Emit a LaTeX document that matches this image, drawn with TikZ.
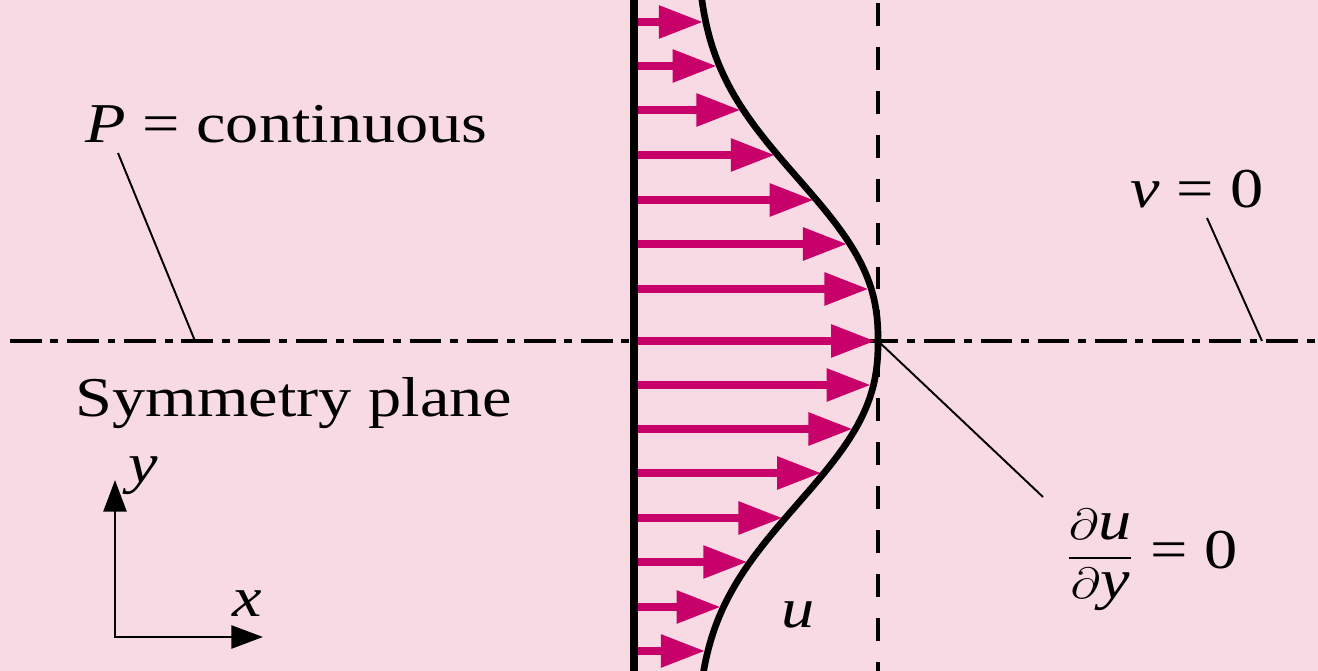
\documentclass[tikz,border=0pt]{standalone}
\usepackage{fontspec}
\setmainfont{Liberation Serif}
\usepackage{amsmath}
\usepackage{graphicx}
\usetikzlibrary{arrows.meta, positioning}
\definecolor{bgpink}{RGB}{248,218,228}
\definecolor{velmag}{RGB}{200,0,105}
\newcommand{\wide}[1]{\scalebox{1.18}[1]{#1}}

\begin{document}
\begin{tikzpicture}[x=0.02cm, y=-0.02cm,
  lbl/.style={font=\fontsize{32}{38}\selectfont, inner sep=0pt},
  leader/.style={line width=1.1pt},
  vel/.style={velmag, line width=4pt, -{Triangle[length=25pt, width=18pt]}},
  axis/.style={line width=1.7pt, line join=miter},
  declare function={prof(\t)=696+182*exp(-((abs(\t-341)+0.01)/204)^2.4);}
]
  \fill[bgpink] (0,0) rectangle (1318,671);
  \useasboundingbox (0,0) rectangle (1318,671);

  % centre line and wall edge of the symmetric region
  \draw[line width=1.9pt, dash pattern=on 18pt off 5pt on 4.5pt off 5pt] (10,341) -- (1318,341);
  \draw[line width=2pt, dash pattern=on 13pt off 12pt] (878,3) -- (878,671);

  \begin{scope}
    \clip (0,0) rectangle (1318,671);
    % velocity arrows
    \foreach \yy in {22,66,110,155,200,244,289,341,385,429,473,518,562,607,651}
      \draw[vel] (634,\yy) -- ({prof(\yy)-3},\yy);
    % profile u(y)
    \draw[line width=3.8pt] plot[domain=-10:681, samples=90, smooth] ({prof(\x)},\x);
    % wall
    \draw[line width=4pt] (634,-5) -- (634,676);
  \end{scope}

  % labels
  \node[lbl, anchor=base west] (pcont) at (85,143) {\wide{\textit{P} = continuous}};
  \node[lbl, anchor=base west] (symm) at (75,417) {\wide{Symmetry plane}};
  \node[lbl, anchor=base west] (vzero) at (1130,208) {\wide{\textit{v} = 0}};
  \node[lbl, anchor=base] (ulbl) at (798,627) {\wide{\textit{u}}};
  \node[lbl, anchor=base west] (dudy) at (1066,569) {\wide{$\dfrac{\partial\textit{u}}{\partial\textit{y}}$ = 0}};

  % leader lines
  \coordinate (ptop) at (118,153);
  \coordinate (pfoot) at (195,341);
  \coordinate (vtop) at (1207,218);
  \coordinate (vfoot) at (1262,341);
  \coordinate (peak) at (878,341);
  \coordinate (dend) at (1043,497);
  \draw[leader] (ptop) -- (pfoot);
  \draw[leader] (vtop) -- (vfoot);
  \draw[leader] (peak) -- (dend);

  % axes
  \coordinate (orig) at (115,637);
  \coordinate (ytip) at (115,480);
  \coordinate (xtip) at (263,637);
  \draw[axis, {Triangle[length=18pt, width=13pt]}-{Triangle[length=18pt, width=13pt]}] (ytip) -- (orig) -- (xtip);
  \node[lbl] (xlbl) at (247,604) {\wide{\textit{x}}};
  \node[lbl] (ylbl) at (143,476) {\wide{\textit{y}}};
\end{tikzpicture}
\end{document}
